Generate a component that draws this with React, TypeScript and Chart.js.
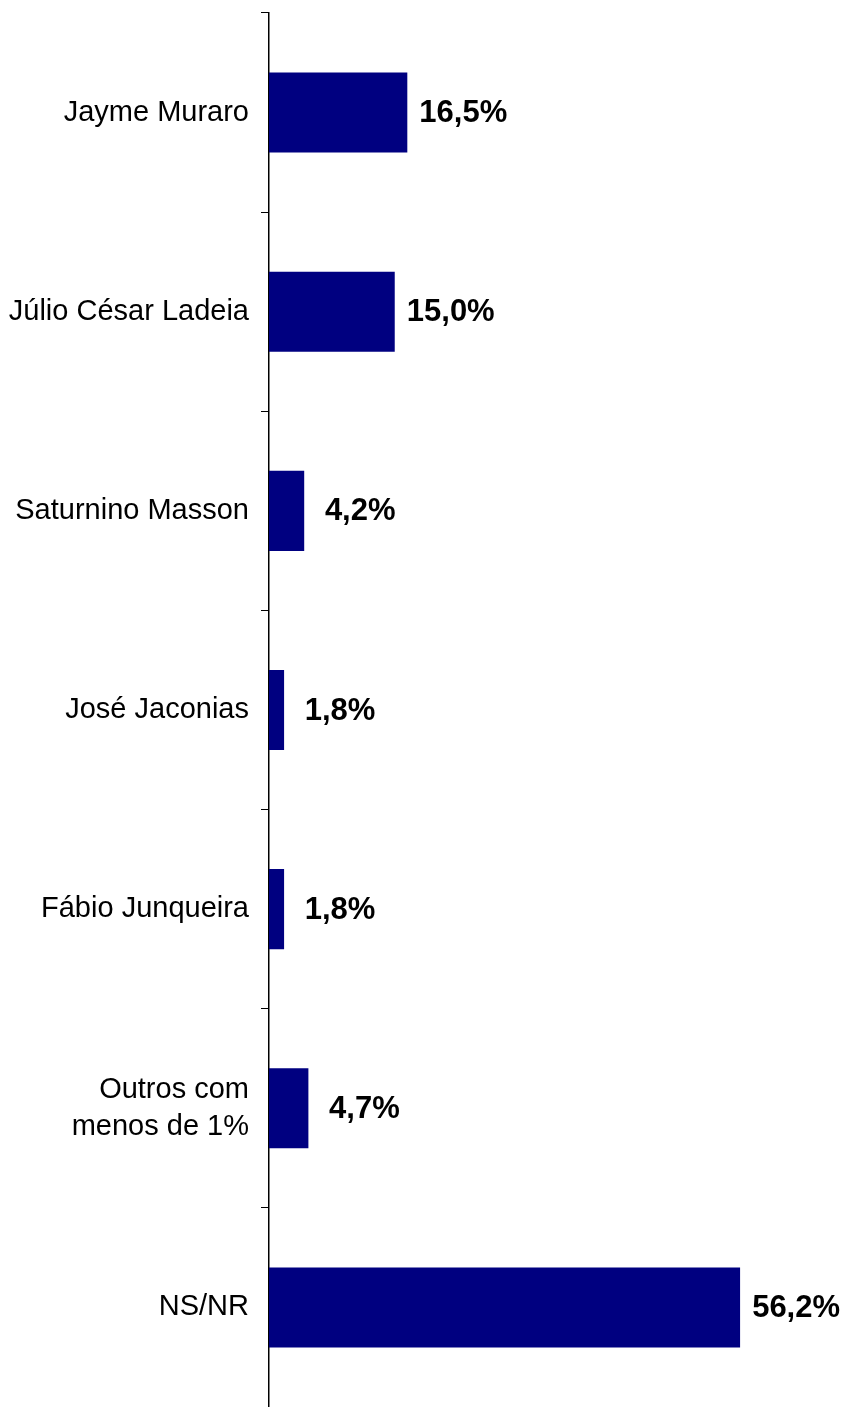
import React, { useEffect, useRef } from "react";
import { Chart, registerables } from "chart.js";

Chart.register(...registerables);

const categories: (string | string[])[] = [
  "Jayme Muraro",
  "Júlio César Ladeia",
  "Saturnino Masson",
  "José Jaconias",
  "Fábio Junqueira",
  ["Outros com", "menos de 1%"],
  "NS/NR",
];

const values: number[] = [16.5, 15.0, 4.2, 1.8, 1.8, 4.7, 56.2];

const xMin = 0;
const xMax = 68;

const fmt = (v: number) => v.toFixed(1).replace(".", ",") + "%";

const valueLabels = {
  id: "valueLabels",
  afterDatasetsDraw(chart: any) {
    const ctx = chart.ctx;
    const meta = chart.getDatasetMeta(0);
    ctx.save();
    ctx.font = "bold 31px 'Liberation Sans', Arial, sans-serif";
    ctx.fillStyle = "#000";
    ctx.textAlign = "center";
    ctx.textBaseline = "middle";
    meta.data.forEach((bar: any, i: number) => {
      const v = chart.data.datasets[0].data[i] as number;
      ctx.fillText(fmt(v), bar.x + 56, bar.y + 1);
    });
    ctx.restore();
  },
};

export default function App() {
  const ref = useRef<HTMLCanvasElement | null>(null);

  useEffect(() => {
    if (!ref.current) return;
    const chart = new Chart(ref.current, {
      type: "bar",
      data: {
        labels: categories,
        datasets: [
          {
            data: values,
            backgroundColor: "#000080",
            borderWidth: 0,
            categoryPercentage: 1,
            barPercentage: 0.402,
          },
        ],
      },
      options: {
        indexAxis: "y",
        animation: false,
        responsive: false,
        maintainAspectRatio: false,
        layout: { padding: { top: 13, right: 5, bottom: 0, left: 0 } },
        plugins: {
          legend: { display: false },
          tooltip: { enabled: false },
        },
        scales: {
          x: {
            display: false,
            min: xMin,
            max: xMax,
          },
          y: {
            offset: true,
            grid: {
              display: true,
              drawOnChartArea: false,
              drawTicks: true,
              tickLength: 8,
              color: "#000",
              lineWidth: 1,
              offset: true,
            },
            border: { display: true, color: "#000", width: 1.5 },
            ticks: {
              color: "#000",
              padding: 12,
              font: {
                family: "'Liberation Sans', Arial, sans-serif",
                size: 29,
                lineHeight: 1.28,
              },
            },
            afterFit(scale: any) {
              scale.width = 269;
              scale.paddingTop = 0;
              scale.paddingBottom = 0;
            },
          },
        },
      },
      plugins: [valueLabels],
    } as any);
    return () => chart.destroy();
  }, []);

  return (
    <div style={{ position: "absolute", left: 0, top: 0, width: 844, height: 1407, background: "#fff" }}>
      <canvas ref={ref} width={844} height={1407} />
    </div>
  );
}
